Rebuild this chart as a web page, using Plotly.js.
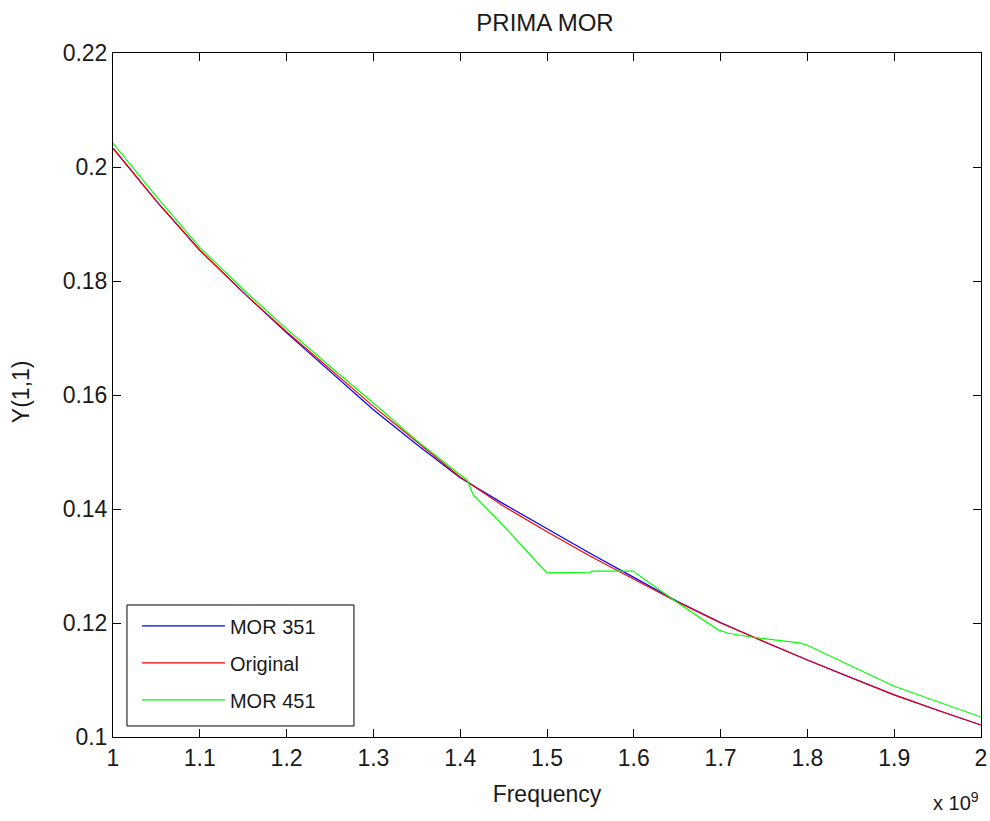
<!DOCTYPE html>
<html>
<head>
<meta charset="utf-8">
<script src="https://cdn.plot.ly/plotly-3.0.1.min.js"></script>
<style>html,body{margin:0;padding:0;background:#fff;}#chart{width:990px;height:821px;}</style>
</head>
<body>
<div id="chart"></div>
<script>
// Frequency in units of 1e9 Hz
const freqOrig = [1.00,1.05,1.10,1.15,1.20,1.25,1.30,1.35,1.40,1.45,1.50,1.55,1.60,1.65,1.70,1.75,1.80,1.85,1.90,1.95,2.00];
const yOrig    = [0.2033,0.1940,0.1854,0.1780,0.1711,0.1645,0.1580,0.1518,0.1456,0.1405,0.1360,0.1317,0.1277,0.1237,0.1200,0.1167,0.1135,0.1104,0.1074,0.1047,0.1021];

const freq351 = [1.00,1.05,1.10,1.15,1.20,1.25,1.30,1.35,1.40,1.45,1.50,1.55,1.60,1.65,1.70,1.75,1.80,1.85,1.90,1.95,2.00];
const y351    = [0.2033,0.1940,0.1854,0.1780,0.1709,0.1641,0.1574,0.1513,0.1455,0.1409,0.1365,0.1322,0.1280,0.1238,0.1201,0.1167,0.1135,0.1104,0.1074,0.1047,0.1021];

const freq451 = [1.00,1.05,1.10,1.15,1.20,1.25,1.30,1.35,1.40,1.408,1.415,1.449,1.484,1.50,1.55,1.552,1.599,1.651,1.697,1.709,1.737,1.791,1.80,1.90,2.00];
const y451    = [0.2042,0.1948,0.1859,0.1785,0.1716,0.1650,0.1586,0.1520,0.1460,0.1451,0.1425,0.1372,0.1314,0.1288,0.1289,0.1291,0.1291,0.1235,0.1188,0.1182,0.1175,0.1165,0.1161,0.1089,0.1035];

const xTicks = [1,1.1,1.2,1.3,1.4,1.5,1.6,1.7,1.8,1.9,2];
const xTickText = ['1','1.1','1.2','1.3','1.4','1.5','1.6','1.7','1.8','1.9','2'];
const yTicks = [0.1,0.12,0.14,0.16,0.18,0.2,0.22];
const yTickText = ['0.1','0.12','0.14','0.16','0.18','0.2','0.22'];

const fam = '"Liberation Sans", Arial, sans-serif';
const font = {family: fam, size: 23, color: '#1a1a1a'};
const titleFont = {family: fam, size: 24, color: '#1a1a1a'};
const legFont = {family: fam, size: 20, color: '#1a1a1a'};

const traces = [
  {x: freq351, y: y351, name: 'MOR 351', mode: 'lines', line: {color: '#0000ff', width: 1.2}, legendgroup: 'a'},
  {x: freqOrig, y: yOrig, name: 'Original', mode: 'lines', line: {color: '#ff0000', width: 1.2}, legendgroup: 'b'},
  {x: freq451, y: y451, name: 'MOR 451', mode: 'lines', line: {color: '#00ff00', width: 1.2}, legendgroup: 'c'}
];

const axisCommon = {
  showline: true, linecolor: '#000', linewidth: 1, mirror: 'allticks',
  ticks: 'inside', ticklen: 8, tickcolor: '#000', tickwidth: 1,
  showgrid: false, zeroline: false, tickfont: font
};

const layout = {
  width: 990, height: 821,
  margin: {l: 113, r: 9, t: 53, b: 84},
  paper_bgcolor: '#fff', plot_bgcolor: '#fff',
  font: font,
  title: {text: 'PRIMA MOR', font: titleFont, x: 0.5505, xanchor: 'center', y: 0.973, yanchor: 'middle'},
  xaxis: Object.assign({}, axisCommon, {
    range: [1, 2], tickvals: xTicks, ticktext: xTickText,
    title: {text: 'Frequency', font: font, standoff: 16}
  }),
  yaxis: Object.assign({}, axisCommon, {
    range: [0.1, 0.22], tickvals: yTicks, ticktext: yTickText
  }),
  showlegend: true,
  legend: {
    x: 0.0276, y: 0.191, xanchor: 'left', yanchor: 'top',
    bgcolor: 'rgba(0,0,0,0)', borderwidth: 0,
    font: legFont, itemwidth: 83, tracegroupgap: 8, traceorder: 'grouped'
  },
  shapes: [
    {type: 'rect', xref: 'paper', yref: 'paper', x0: 0.0161, x1: 0.2776, y0: 0.0161, y1: 0.193,
     line: {color: '#000', width: 1}, fillcolor: '#fff', layer: 'above'}
  ],
  annotations: [
    {text: 'Y(1,1)', xref: 'paper', yref: 'paper', x: -0.1065, y: 0.505, textangle: -90,
     xanchor: 'center', yanchor: 'middle', showarrow: false, font: font},
    {text: 'x 10<sup>9</sup>', xref: 'paper', yref: 'paper', x: 1.0, y: -0.095,
     xanchor: 'right', yanchor: 'middle', showarrow: false, font: {family: fam, size: 20, color: '#1a1a1a'}}
  ]
};

Plotly.newPlot('chart', traces, layout, {displayModeBar: false, staticPlot: true});
</script>
</body>
</html>
